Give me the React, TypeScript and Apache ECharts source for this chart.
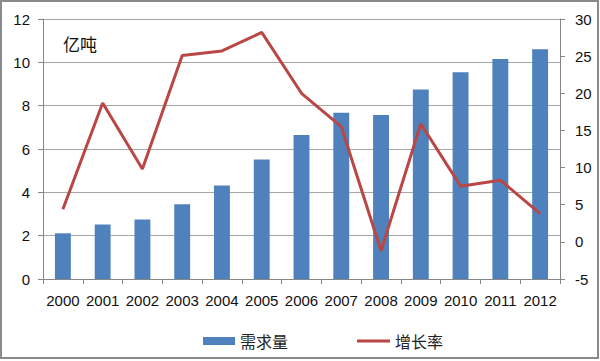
import React, { useEffect, useRef } from "react";
import * as echarts from "echarts";

const years = ["2000","2001","2002","2003","2004","2005","2006","2007","2008","2009","2010","2011","2012"];
const demand = [2.11, 2.52, 2.75, 3.45, 4.32, 5.52, 6.65, 7.67, 7.57, 8.75, 9.54, 10.15, 10.6];
const growth = [4.4, 18.7, 9.8, 25.1, 25.7, 28.2, 20.0, 15.5, -1.2, 15.9, 7.5, 8.3, 3.8];
const unitLabel = "亿吨";
const seriesNames = ["需求量", "增长率"];

const numFont = "'Liberation Sans', Arial, sans-serif";
const cjkFont = "'Noto Sans CJK SC', sans-serif";
const legendText = { fontFamily: cjkFont, fontSize: 16, color: "#222" };

export default function App() {
  const ref = useRef<HTMLDivElement>(null);
  useEffect(() => {
    const chart = echarts.init(ref.current!, null, { renderer: "svg" });
    chart.setOption({
      animation: false,
      backgroundColor: "#fff",
      grid: { left: 43, right: 40, top: 19, bottom: 82 },
      legend: [
        {
          left: 198,
          top: 328,
          itemWidth: 32,
          itemHeight: 8,
          itemGap: 4,
          textStyle: legendText,
          data: [{ name: seriesNames[0], icon: "rect" }],
        },
        {
          left: 352,
          top: 328,
          itemWidth: 33,
          itemHeight: 3,
          textStyle: legendText,
          data: [{ name: seriesNames[1], icon: "rect" }],
        },
      ],
      graphic: [
        {
          type: "text",
          left: 63,
          top: 35,
          style: { text: unitLabel, fontFamily: cjkFont, fontSize: 17, fill: "#111" },
        },
        {
          type: "rect",
          shape: { x: 1, y: 1, width: 597, height: 357 },
          style: { fill: "none", stroke: "#8a8a8a", lineWidth: 2 },
          silent: true,
        },
      ],
      xAxis: {
        type: "category",
        data: years,
        boundaryGap: true,
        axisLine: { lineStyle: { color: "#868686", width: 1 } },
        axisTick: { show: true, alignWithLabel: false, length: 5, lineStyle: { color: "#868686" } },
        axisLabel: { fontFamily: numFont, fontSize: 15, color: "#111", margin: 14, interval: 0, hideOverlap: false },
      },
      yAxis: [
        {
          type: "value",
          min: 0,
          max: 12,
          interval: 2,
          axisLine: { show: true, lineStyle: { color: "#868686" } },
          axisTick: { show: true, length: 5, lineStyle: { color: "#868686" } },
          axisLabel: { fontFamily: numFont, fontSize: 15, color: "#111", margin: 13 },
          splitLine: { lineStyle: { color: "#a6a6a6", width: 1 } },
        },
        {
          type: "value",
          min: -5,
          max: 30,
          interval: 5,
          position: "right",
          axisLine: { show: true, lineStyle: { color: "#868686" } },
          axisTick: { show: true, length: 5, lineStyle: { color: "#868686" } },
          axisLabel: { fontFamily: numFont, fontSize: 15, color: "#111", margin: 15 },
          splitLine: { show: false },
        },
      ],
      series: [
        {
          name: seriesNames[0],
          type: "bar",
          data: demand,
          barWidth: "40%",
          itemStyle: { color: "#4F81BD" },
          yAxisIndex: 0,
        },
        {
          name: seriesNames[1],
          type: "line",
          data: growth,
          yAxisIndex: 1,
          symbol: "none",
          lineStyle: { color: "#B84745", width: 3 },
          itemStyle: { color: "#B84745" },
        },
      ],
    });
    return () => chart.dispose();
  }, []);
  return (
    <div
      ref={ref}
      style={{ position: "absolute", left: 0, top: 0, width: 600, height: 361 }}
    />
  );
}
